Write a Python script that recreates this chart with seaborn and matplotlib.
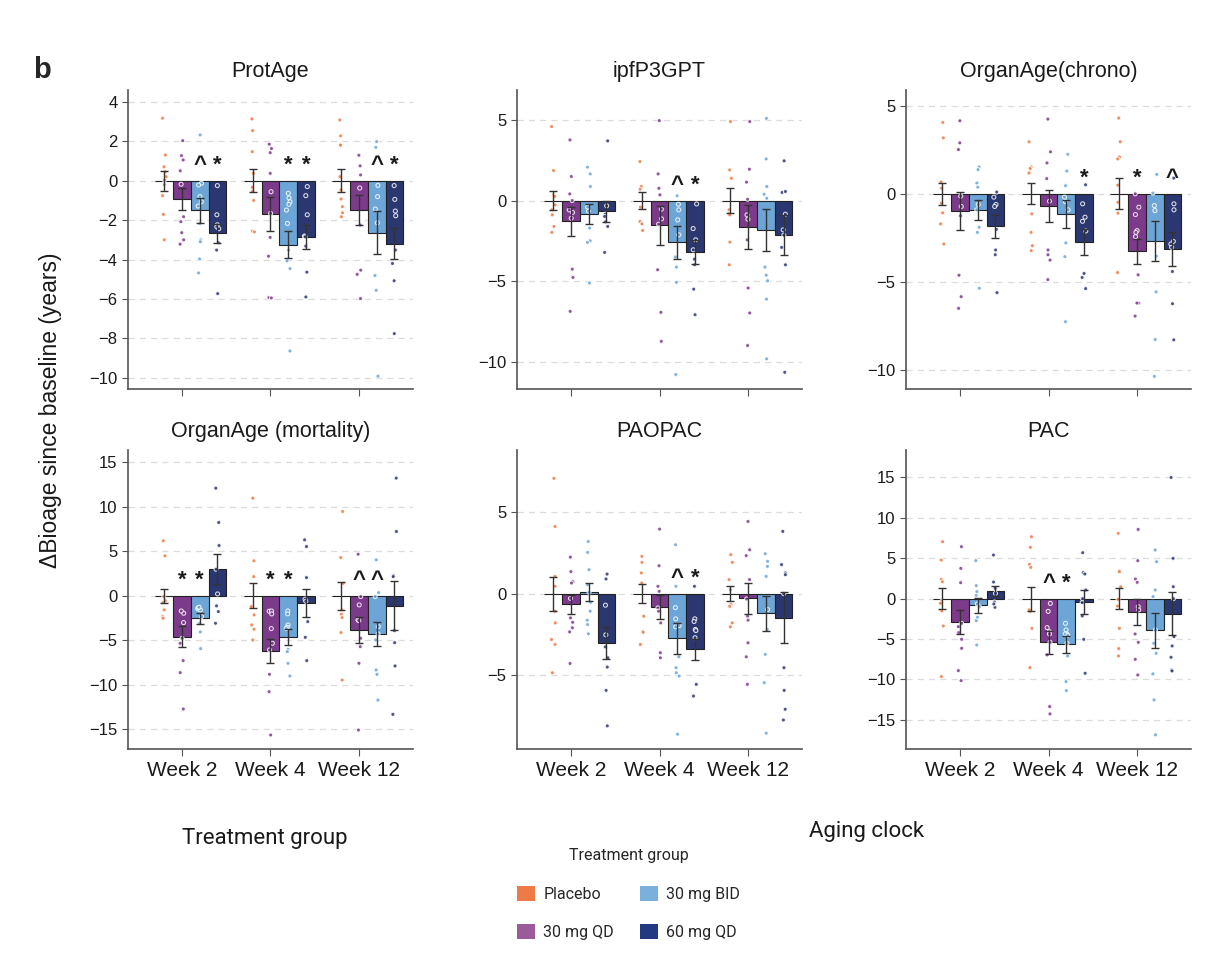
import numpy as np
import pandas as pd
import matplotlib
matplotlib.use('Agg')
import matplotlib.pyplot as plt
from matplotlib.patches import Patch
import seaborn as sns

weeks = ['Week 2', 'Week 4', 'Week 12']
groups = ['Placebo', '30 mg QD', '30 mg BID', '60 mg QD']
bar_colors = ['#EC7A44', '#7B3A8A', '#6CA5D6', '#2B3770']
legend_colors = ['#EE7B45', '#9B5A99', '#7AB0DB', '#233A80']

# ---- ProtAge ----
protage_mean = [[0, -0.93, -1.51, -2.68], [0, -1.68, -3.24, -2.85], [0, -1.49, -2.63, -3.20]]
protage_sem = [[0.50, 0.57, 0.65, 0.50], [0.57, 0.87, 0.70, 0.60], [0.57, 0.75, 1.07, 0.79]]
protage_sig = [['', '', '^', '*'], ['', '', '*', '*'], ['', '', '^', '*']]
protage_pts = [
    [[3.17, 1.3, 0.7, 0.45, 0.2, 0.03, -0.2, -0.76, -1.71, -3.0],
     [2.03, 1.05, 1.27, 0.5, -0.18, -1.83, -2.08, -2.64, -3.0, -3.22],
     [2.32, -0.13, -0.22, -0.81, -1.07, -1.29, -2.17, -3.0, -3.1, -3.97, -4.68],
     [-0.25, -1.73, -2.24, -2.34, -2.44, -3.15, -3.52, -5.73]],
    [[3.13, 2.54, 1.47, 0.37, -0.34, -0.54, -1.0, -2.56, -2.6],
     [1.85, 1.63, 1.42, 0.37, -0.56, -1.66, -2.88, -3.83, -5.93, -5.95],
     [-0.64, -0.88, -1.07, -1.2, -1.49, -2.17, -3.52, -4.07, -4.46, -8.64],
     [-0.3, -0.76, -1.73, -2.81, -2.85, -3.32, -4.64, -5.9]],
    [[3.08, 2.27, 1.85, 1.8, 0.2, -0.47, -0.93, -1.32, -1.63, -1.83],
     [1.29, 0.75, 0.29, -0.37, -2.25, -4.54, -4.75, -5.98],
     [1.69, 1.98, -0.24, -0.81, -1.44, -2.14, -4.81, -5.56, -9.92],
     [-0.25, -0.95, -1.54, -1.78, -3.52, -4.2, -5.08, -7.76]],
]

# ---- ipfP3GPT ----
ipf_mean = [[0, -1.30, -0.85, -0.68], [0, -1.55, -2.60, -3.20], [0, -1.63, -1.82, -2.13]]
ipf_sem = [[0.58, 0.92, 0.62, 0.64], [0.50, 1.18, 1.00, 0.72], [0.75, 1.37, 1.32, 1.25]]
ipf_sig = [['', '', '', ''], ['', '', '^', '*'], ['', '', '', '']]
ipf_pts = [
    [[4.59, 1.86, 0.35, 0.25, -0.27, -0.58, -0.89, -1.61, -1.98],
     [3.76, 1.49, 0.41, 0.0, -0.74, -0.58, -1.1, -4.26, -4.77, -6.88],
     [2.07, 1.65, 0.87, -0.41, -0.66, -1.71, -2.5, -2.6, -5.12],
     [3.7, -0.33, -0.85, -0.99, -1.32, -1.61, -3.22]],
    [[2.42, 0.87, 0.7, -0.41, -1.3, -1.45, -1.86],
     [4.96, 1.65, 0.76, 0.35, -0.54, -1.14, -1.47, -4.3, -6.94, -8.74],
     [0.29, -0.23, -0.58, -1.2, -2.13, -3.51, -4.13, -5.08, -10.8],
     [-0.21, -1.74, -2.44, -3.06, -3.64, -3.99, -5.5, -7.09]],
    [[4.9, 1.9, 1.38, -0.58, -0.79, -0.89, -2.58, -3.99],
     [4.9, 1.94, 1.14, 0.08, -0.89, -1.16, -2.44, -5.43, -6.98, -9.0],
     [5.1, 2.58, 0.87, 0.39, 0.14, -4.98, -4.63, -4.13, -6.12, -9.83],
     [2.46, 0.5, 0.56, -0.85, -1.82, -2.15, -2.91, -3.99, -10.66]],
]

# ---- OrganAge(chrono) ----
chrono_mean = [[0, -1.00, -0.93, -1.84], [0, -0.70, -1.16, -2.72], [0, -3.27, -2.70, -3.14]]
chrono_sem = [[0.61, 1.08, 0.58, 0.66], [0.60, 0.90, 0.79, 0.73], [0.87, 0.70, 1.14, 0.95]]
chrono_sig = [['', '', '', ''], ['', '', '', '*'], ['', '*', '', '^']]
chrono_pts = [
    [[4.05, 3.17, 0.67, 0.32, -0.53, -1.08, -1.71, -2.85],
     [4.14, 2.89, 2.51, -0.13, -0.72, -1.25, -4.62, -5.84, -6.5],
     [1.52, 1.37, 0.61, 0.38, -0.61, -0.91, -1.9, -2.19, -5.36],
     [0.1, -0.19, -0.61, -0.72, -2.02, -3.19, -3.46, -5.61]],
    [[2.95, 1.52, 1.43, 1.18, -1.14, -2.19, -2.95, -3.23],
     [4.24, 2.38, 1.75, 0.86, -0.42, -3.19, -3.46, -3.76, -4.87],
     [2.24, 1.29, 0.46, -0.19, -0.44, -0.91, -2.79, -3.57, -7.26],
     [0.51, -0.57, -1.33, -1.56, -2.11, -4.52, -4.75, -5.38]],
    [[4.3, 2.95, 2.09, 1.98, 0.49, -0.48, -1.1, -4.47],
     [0.0, -0.76, -1.18, -2.09, -2.43, -2.19, -4.6, -6.2, -6.2, -6.94],
     [1.1, 0.04, -0.67, -0.95, -3.54, -5.57, -8.27, -10.36],
     [0.89, -0.57, -0.91, -2.7, -2.85, -3.04, -4.41, -6.24, -8.29]],
]

# ---- OrganAge (mortality) ----
mort_mean = [[0, -4.57, -2.50, 3.00], [0, -6.19, -4.57, -0.79], [0, -3.86, -4.27, -1.09]]
mort_sem = [[0.80, 1.20, 0.60, 1.70], [1.40, 1.33, 0.90, 1.60], [1.55, 1.48, 1.35, 2.73]]
mort_sig = [['', '*', '*', ''], ['', '*', '*', ''], ['', '^', '^', '']]
mort_pts = [
    [[6.19, 4.5, -0.07, -0.56, -0.75, -1.57, -2.32, -2.51],
     [-1.95, -1.69, -3.0, -4.76, -5.32, -7.27, -8.62, -12.71],
     [-1.46, -1.57, -1.31, -1.27, -2.32, -3.07, -4.05, -5.92],
     [12.11, 8.25, 5.66, 3.0, 0.22, -1.12, -1.76, -3.07]],
    [[10.99, 3.94, 2.17, -1.2, -2.14, -3.26, -3.75, -4.95],
     [-1.72, -1.69, -2.02, -3.67, -5.32, -6.07, -8.81, -10.76, -15.63],
     [-1.69, -2.02, -3.26, -3.52, -3.67, -6.0, -6.26, -7.57, -9.0],
     [6.3, 5.55, 2.06, -0.37, -0.6, -2.89, -4.65, -7.27]],
    [[9.49, 4.31, 1.42, -1.57, -2.06, -2.44, -4.12, -9.45],
     [4.69, -0.07, -1.01, -2.7, -2.77, -4.76, -5.7, -7.57, -15.07],
     [4.05, 0.37, -0.07, -3.45, -4.27, -4.95, -8.32, -8.81, -11.7],
     [13.24, 7.24, 2.29, 2.17, -3.9, -5.25, -7.87, -13.31]],
]

# ---- PAOPAC ----
paopac_mean = [[0, -0.65, 0.10, -3.02], [0, -0.82, -2.73, -3.43], [0, -0.29, -1.22, -1.49]]
paopac_sem = [[1.04, 0.58, 0.57, 1.00], [0.57, 0.76, 0.95, 0.65], [0.44, 0.95, 1.07, 1.57]]
paopac_sig = [['', '', '', ''], ['', '', '^', '*'], ['', '', '', '']]
paopac_pts = [
    [[7.08, 4.12, 1.06, 0.45, -1.08, -1.8, -2.82, -3.12, -4.86],
     [2.24, 1.35, 0.73, 0.65, -0.29, -1.49, -1.76, -2.1, -2.35, -4.29],
     [3.2, 2.53, 1.47, 0.55, 0.08, -0.53, -1.08, -1.63, -1.9, -2.47],
     [1.2, 0.9, -0.71, -2.53, -3.27, -3.94, -4.51, -5.94, -8.12]],
    [[2.29, 1.92, 1.27, 0.65, -1.39, -2.31, -2.37, -3.12],
     [3.96, 1.71, 0.45, 0.14, -0.88, -1.08, -1.8, -3.63, -3.94],
     [3.0, 0.45, -0.86, -1.55, -2.04, -1.96, -3.88, -4.55, -4.86, -5.06, -8.63],
     [0.45, -1.55, -1.71, -2.2, -2.27, -2.71, -5.57, -6.29]],
    [[2.39, 1.92, 0.86, 0.24, -0.67, -0.78, -1.8, -2.04],
     [4.43, 2.69, 2.33, 0.86, -0.33, -1.39, -1.63, -3.02, -3.88, -5.57],
     [2.45, 1.98, 1.67, 1.06, -0.98, -2.2, -3.73, -5.47, -8.57],
     [3.82, 1.78, 1.27, 1.16, 0.0, -4.55, -5.94, -7.1, -7.76]],
]

# ---- PAC ----
pac_mean = [[0, -2.88, -0.82, 0.99], [0, -5.40, -5.64, -0.41], [0, -1.60, -3.91, -1.85]]
pac_sem = [[1.32, 1.52, 0.90, 0.63], [1.48, 1.46, 1.03, 1.44], [1.32, 1.60, 2.16, 2.68]]
pac_sig = [['', '', '', ''], ['', '^', '*', ''], ['', '', '', '']]
pac_pts = [
    [[7.05, 4.78, 2.39, 2.1, -0.37, -0.58, -1.52, -3.38, -9.64],
     [6.43, 3.75, 1.98, -3.05, -3.46, -4.2, -5.03, -6.14, -8.9, -10.14],
     [4.7, 1.61, 0.41, 0.87, -0.66, -0.99, -2.31, -2.72, -5.73],
     [5.4, 2.06, 1.28, 0.66, -0.41, -1.07, -0.66]],
    [[7.66, 6.35, 4.24, 3.87, -1.4, -1.61, -1.4, -3.67, -8.53],
     [-0.58, -1.57, -3.58, -4.08, -4.37, -5.4, -6.96, -13.35, -14.26],
     [-3.05, -3.87, -4.37, -4.37, -4.53, -5.52, -7.09, -10.26, -11.37],
     [5.69, 3.21, 3.05, 1.07, 0.0, -0.49, -2.14, -5.03, -9.23]],
    [[8.08, 3.46, 3.34, 1.48, -0.08, -0.91, -3.67, -6.18, -7.09],
     [8.57, 4.7, 2.43, 2.02, -0.99, -1.4, -4.37, -5.4, -7.5, -9.44],
     [6.02, 4.57, 1.07, 0.25, -3.87, -5.52, -6.76, -9.31, -12.53, -16.85],
     [15.0, 4.99, 1.48, 0.0, -4.7, -5.85, -7.25, -8.82, -8.94]],
]

panels = [
    ('ProtAge', protage_mean, protage_sem, protage_pts, protage_sig, (-10.57, 4.6), [4, 2, 0, -2, -4, -6, -8, -10]),
    ('ipfP3GPT', ipf_mean, ipf_sem, ipf_pts, ipf_sig, (-11.7, 6.86), [5, 0, -5, -10]),
    ('OrganAge(chrono)', chrono_mean, chrono_sem, chrono_pts, chrono_sig, (-11.08, 5.89), [5, 0, -5, -10]),
    ('OrganAge (mortality)', mort_mean, mort_sem, mort_pts, mort_sig, (-17.2, 16.4), [15, 10, 5, 0, -5, -10, -15]),
    ('PAOPAC', paopac_mean, paopac_sem, paopac_pts, paopac_sig, (-9.54, 8.82), [5, 0, -5]),
    ('PAC', pac_mean, pac_sem, pac_pts, pac_sig, (-18.6, 18.4), [15, 10, 5, 0, -5, -10, -15]),
]


def draw_panel(ax, title, means, sems, pts, sig, ylim, yticks, bottom_row):
    summ = pd.DataFrame([
        {'week': w, 'group': g, 'mean': means[i][j]}
        for i, w in enumerate(weeks) for j, g in enumerate(groups)
    ])
    raw = pd.DataFrame([
        {'week': w, 'group': g, 'value': v}
        for i, w in enumerate(weeks) for j, g in enumerate(groups) for v in pts[i][j]
    ])
    sns.barplot(data=summ, x='week', y='mean', hue='group', order=weeks,
                hue_order=groups, palette=bar_colors, width=0.8, errorbar=None,
                edgecolor='#222222', linewidth=0.8, saturation=1, legend=False, ax=ax)
    bar_conts = list(ax.containers)
    for j, cont in enumerate(bar_conts):
        for i, bar in enumerate(cont.patches):
            xc = bar.get_x() + bar.get_width() / 2
            ax.errorbar(xc, means[i][j], yerr=sems[i][j], color='#333333',
                        lw=1.0, capsize=3, capthick=1.0, zorder=5)
            if sig[i][j]:
                ax.annotate(sig[i][j], (xc, 0), xytext=(0, 11),
                            textcoords='offset points', ha='center', va='center',
                            fontsize=16, fontweight='bold', color='#1a1a1a', zorder=6)
    sns.stripplot(data=raw, x='week', y='value', hue='group', order=weeks,
                  hue_order=groups, palette=bar_colors, dodge=True, jitter=0.09,
                  size=2.9, linewidth=0.75, edgecolor='white', alpha=0.85,
                  legend=False, zorder=3, ax=ax)
    ax.set_xlim(-0.71, 2.51)
    ax.set_ylim(*ylim)
    ax.set_yticks(yticks)
    ax.set_xticks([i - 0.1 for i in range(3)])
    if bottom_row:
        ax.set_xticklabels(weeks, fontsize=15)
    else:
        ax.set_xticklabels([])
    ax.set_xlabel('')
    ax.set_ylabel('')
    ax.set_title(title, fontsize=15.5, pad=9, color='#1a1a1a')
    ax.yaxis.grid(True, linestyle=(0, (5, 4)), color='#dcdcdc', linewidth=0.9)
    ax.xaxis.grid(False)
    ax.set_axisbelow(True)
    sns.despine(ax=ax)
    for s in ['left', 'bottom']:
        ax.spines[s].set_color('#555555')
        ax.spines[s].set_linewidth(1.2)
    ax.tick_params(axis='y', labelsize=12, length=4, color='#555555', labelcolor='#1a1a1a')
    ax.tick_params(axis='x', length=5, color='#555555', labelcolor='#1a1a1a')


sns.set_style('ticks')
plt.rcParams['font.family'] = ['Liberation Sans', 'DejaVu Sans']
np.random.seed(7)

fig = plt.figure(figsize=(12.27, 9.75), dpi=100)
lefts = [0.1043, 0.4214, 0.7384]
bottoms = [0.601, 0.2318]
for k, p in enumerate(panels):
    r, c = divmod(k, 3)
    ax = fig.add_axes([lefts[c], bottoms[r], 0.2323, 0.3067])
    draw_panel(ax, *p, bottom_row=(r == 1))

fig.text(0.034, 0.928, 'b', fontsize=21, fontweight='bold', ha='center', va='center')
fig.text(0.041, 0.579, '\u0394Bioage since baseline (years)', fontsize=16.5,
         rotation=90, ha='center', va='center', color='#1a1a1a')
fig.text(0.216, 0.140, 'Treatment group', fontsize=16, family='Roboto',
         ha='center', va='center', color='#1a1a1a')
fig.text(0.706, 0.147, 'Aging clock', fontsize=16, family='Roboto',
         ha='center', va='center', color='#1a1a1a')

handles = [Patch(facecolor=c, edgecolor='none') for c in legend_colors]
leg = fig.legend(handles, groups, ncol=2, loc='upper left',
                 bbox_to_anchor=(0.4214, 0.1301), frameon=False,
                 title='Treatment group', borderpad=0, borderaxespad=0,
                 handlelength=1.15, handleheight=1.1, handletextpad=0.5,
                 labelspacing=1.4, columnspacing=1.6,
                 prop={'family': 'Roboto', 'size': 11.5},
                 title_fontproperties={'family': 'Roboto', 'size': 11.5})

fig.savefig('out.png', dpi=100)
